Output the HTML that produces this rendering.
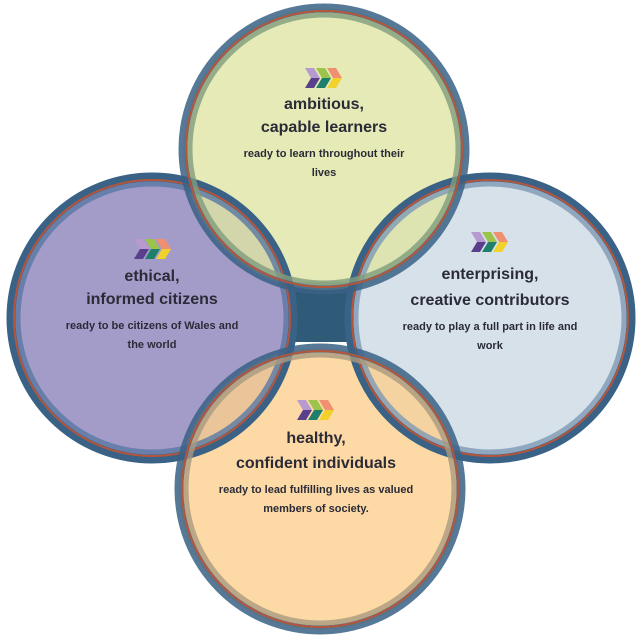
<!DOCTYPE html>
<html><head><meta charset="utf-8"><style>
html,body{margin:0;padding:0;background:#fff;width:640px;height:636px;overflow:hidden}
svg{display:block}
text{font-family:"Liberation Sans","DejaVu Sans",sans-serif;font-weight:bold;fill:#2b2b38;text-anchor:middle}
.h{font-size:16px}
.s{font-size:11px}
</style></head><body>
<svg width="640" height="636" viewBox="0 0 640 636">
<defs>
<g id="chev">
<polygon points="0,0 9,0 15,10 6,10" fill="#b79ad0"/>
<polygon points="6,10 15,10 9,20 0,20" fill="#5a3f8c"/>
<polygon points="11,0 20,0 26,10 17,10" fill="#9cc44a"/>
<polygon points="17,10 26,10 20,20 11,20" fill="#1f7f6a"/>
<polygon points="22,0 31,0 37,10 28,10" fill="#f09070"/>
<polygon points="28,10 37,10 31,20 22,20" fill="#f2d22a"/>
</g>
</defs>
<rect x="285" y="282" width="72" height="60" fill="#2f5a78"/>
<circle cx="152" cy="318" r="141" fill="#a49cc8"/>
<circle cx="490" cy="318" r="141" fill="#d6e1ea"/>
<circle cx="324" cy="149" r="141" fill="#dfe5a4" fill-opacity="0.8"/>
<circle cx="320" cy="489" r="141" fill="#fdd08e" fill-opacity="0.8"/>

<g fill="none">
<circle cx="152" cy="318" r="141" stroke="#3a6286" stroke-width="9"/>
<circle cx="152" cy="318" r="138" stroke="#b5553c" stroke-width="2"/>
<circle cx="152" cy="318" r="134" stroke="#5a78a4" stroke-width="5" stroke-opacity="0.8"/>
<circle cx="490" cy="318" r="141" stroke="#3a6286" stroke-width="9"/>
<circle cx="490" cy="318" r="138" stroke="#b5553c" stroke-width="2"/>
<circle cx="490" cy="318" r="134" stroke="#7d9ab5" stroke-width="5" stroke-opacity="0.8"/>
<circle cx="324" cy="149" r="141" stroke="#3a6286" stroke-width="9" stroke-opacity="0.85"/>
<circle cx="324" cy="149" r="138" stroke="#b5553c" stroke-width="2"/>
<circle cx="324" cy="149" r="134" stroke="#7f9c7c" stroke-width="5" stroke-opacity="0.8"/>
<circle cx="320" cy="489" r="141" stroke="#3a6286" stroke-width="9" stroke-opacity="0.85"/>
<circle cx="320" cy="489" r="138" stroke="#b5553c" stroke-width="2"/>
<circle cx="320" cy="489" r="134" stroke="#a89a80" stroke-width="5" stroke-opacity="0.8"/>
</g>

<use href="#chev" x="305" y="68"/>
<text class="h" x="324" y="109">ambitious,</text>
<text class="h" x="324" y="132">capable learners</text>
<text class="s" x="324" y="157">ready to learn throughout their</text>
<text class="s" x="324" y="176">lives</text>

<use href="#chev" x="134" y="239"/>
<text class="h" x="152" y="281">ethical,</text>
<text class="h" x="152" y="304">informed citizens</text>
<text class="s" x="152" y="329">ready to be citizens of Wales and</text>
<text class="s" x="152" y="348">the world</text>

<use href="#chev" x="471" y="232"/>
<text class="h" x="490" y="279">enterprising,</text>
<text class="h" x="490" y="305">creative contributors</text>
<text class="s" x="490" y="330">ready to play a full part in life and</text>
<text class="s" x="490" y="349">work</text>

<use href="#chev" x="297" y="400"/>
<text class="h" x="316" y="443">healthy,</text>
<text class="h" x="316" y="468">confident individuals</text>
<text class="s" x="316" y="493">ready to lead fulfilling lives as valued</text>
<text class="s" x="316" y="512">members of society.</text>
</svg>
</body></html>
